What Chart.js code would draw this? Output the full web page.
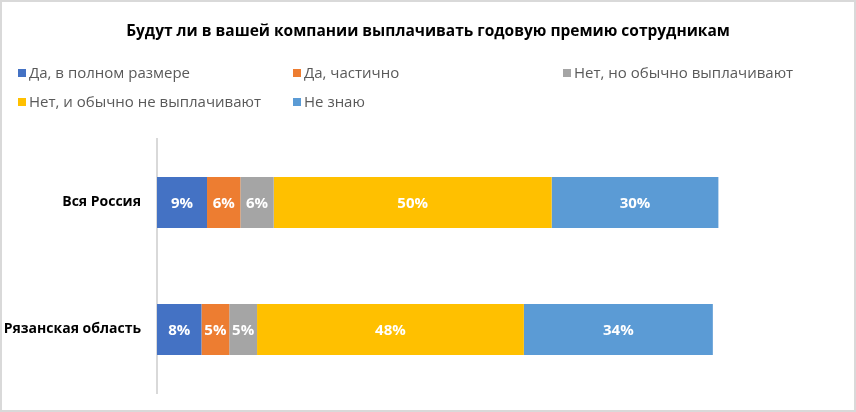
<!DOCTYPE html>
<html lang="ru">
<head>
<meta charset="UTF-8">
<title>Годовая премия сотрудникам</title>
<script src="https://cdn.jsdelivr.net/npm/chart.js@4.4.1/dist/chart.umd.min.js"></script>
<style>
    html, body {
        margin: 0;
        padding: 0;
        background: #fff;
    }
    .wrap {
        position: relative;
        width: 856px;
        height: 412px;
        overflow: hidden;
        font-family: "Open Sans", Arial, sans-serif;
    }
    #chart {
        position: absolute;
        left: 0;
        top: 0;
    }
    .frame {
        position: absolute;
        left: 0;
        top: 0;
        width: 856px;
        height: 412px;
        box-sizing: border-box;
        border: 2px solid #d9d9d9;
        pointer-events: none;
    }
    h1 {
        position: absolute;
        left: 0;
        top: 19px;
        width: 856px;
        margin: 0;
        text-align: center;
        font-size: 15.5px;
        font-weight: bold;
        color: #000;
    }
    .legend-item {
        position: absolute;
        font-size: 15px;
        color: #595959;
        white-space: nowrap;
        line-height: 18px;
    }
    .legend-item span {
        display: inline-block;
        width: 8px;
        height: 8px;
        margin-right: 3px;
        vertical-align: 1px;
    }
</style>
</head>
<body>
<div class="wrap">
    <canvas id="chart" width="856" height="412"></canvas>
    <h1>Будут ли в вашей компании выплачивать годовую премию сотрудникам</h1>
    <div id="legend"></div>
    <div class="frame"></div>
</div>
<script>
const regions = ['Вся Россия', 'Рязанская область'];
const answers = ['Да, в полном размере', 'Да, частично', 'Нет, но обычно выплачивают', 'Нет, и обычно не выплачивают', 'Не знаю'];
const fullPay = [9, 8];
const partPay = [6, 5];
const noButUsually = [6, 5];
const noAndUsuallyNot = [50, 48];
const dontKnow = [30, 34];
const colors = ['#4472C4', '#ED7D31', '#A5A5A5', '#FFC000', '#5B9BD5'];

// позиции легенды как в оригинале (3 колонки, 2 строки)
const legendPos = [[18, 63], [293, 63], [563, 63], [18, 92], [293, 92]];

const legendEl = document.getElementById('legend');
answers.forEach(function(name, i) {
    const d = document.createElement('div');
    d.className = 'legend-item';
    d.style.left = legendPos[i][0] + 'px';
    d.style.top = legendPos[i][1] + 'px';
    d.innerHTML = '<span style="background:' + colors[i] + '"></span>' + name;
    legendEl.appendChild(d);
});

const series = [fullPay, partPay, noButUsually, noAndUsuallyNot, dontKnow];

// подписи значений внутри сегментов
const valueLabels = {
    id: 'valueLabels',
    afterDatasetsDraw(chart) {
        const ctx = chart.ctx;
        ctx.save();
        ctx.font = 'bold 15px "Open Sans", Arial, sans-serif';
        ctx.fillStyle = '#fff';
        ctx.textAlign = 'center';
        ctx.textBaseline = 'middle';
        chart.data.datasets.forEach(function(ds, i) {
            chart.getDatasetMeta(i).data.forEach(function(bar, j) {
                const cx = (bar.x + bar.base) / 2;
                ctx.fillText(ds.data[j] + '%', cx, bar.y + 1);
            });
        });
        ctx.restore();
    }
};

new Chart(document.getElementById('chart'), {
    type: 'bar',
    data: {
        labels: regions,
        datasets: series.map(function(vals, i) {
            return {
                label: answers[i],
                data: vals,
                backgroundColor: colors[i],
                borderWidth: 0,
                categoryPercentage: 0.4,
                barPercentage: 1
            };
        })
    },
    options: {
        indexAxis: 'y',
        responsive: false,
        animation: false,
        layout: {
            padding: { left: 0, top: 139, right: 32, bottom: 19 }
        },
        scales: {
            x: {
                stacked: true,
                display: false,
                min: 0,
                max: 120
            },
            y: {
                stacked: true,
                grid: { display: false, drawTicks: false },
                border: { display: true, color: '#d9d9d9', width: 2 },
                ticks: {
                    color: '#000',
                    padding: 16,
                    font: { family: '"Open Sans", Arial, sans-serif', size: 14, weight: 'bold' }
                },
                afterFit: function(scale) {
                    scale.width = 157;
                    scale.paddingTop = 0;
                    scale.paddingBottom = 0;
                }
            }
        },
        plugins: {
            legend: { display: false },
            tooltip: { enabled: false }
        }
    },
    plugins: [valueLabels]
});
</script>
</body>
</html>
